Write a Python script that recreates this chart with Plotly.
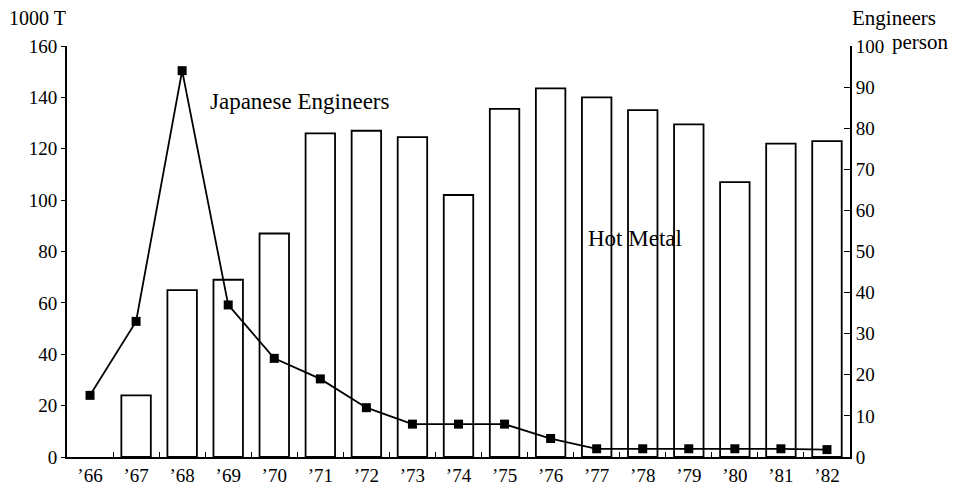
import plotly.graph_objects as go

years = ["’66", "’67", "’68", "’69", "’70", "’71", "’72", "’73", "’74",
         "’75", "’76", "’77", "’78", "’79", "’80", "’81", "’82"]
hot_metal = [None, 24, 65, 69, 87, 126, 127, 124.5, 102, 135.5, 143.5, 140, 135, 129.5, 107, 122, 123]
engineers = [15, 33, 94, 37, 24, 19, 12, 8, 8, 8, 4.5, 2, 2, 2, 2, 2, 1.8]
left_ticks = [0, 20, 40, 60, 80, 100, 120, 140, 160]
right_ticks = [0, 10, 20, 30, 40, 50, 60, 70, 80, 90, 100]

FONT = "Liberation Serif"

fig = go.Figure()
fig.add_trace(go.Bar(
    x=years, y=hot_metal, width=0.64,
    marker=dict(color="white", line=dict(color="black", width=1.8)),
    yaxis="y", showlegend=False, hoverinfo="skip"))
fig.add_trace(go.Scatter(
    x=years, y=engineers, mode="lines+markers",
    line=dict(color="black", width=1.8),
    marker=dict(symbol="square", size=9, color="black"),
    yaxis="y2", showlegend=False))

fig.update_layout(
    width=963, height=489,
    margin=dict(l=67, r=113, t=46, b=32),
    paper_bgcolor="white", plot_bgcolor="white",
    font=dict(family=FONT, size=19, color="black"),
    xaxis=dict(type="category", range=[-0.5, 16.5], showline=True, linecolor="black",
               linewidth=1.8, ticks="inside", tickson="boundaries", ticklen=5,
               tickcolor="black", showgrid=False, zeroline=False, automargin=False,
               tickfont=dict(family=FONT, size=19)),
    yaxis=dict(range=[0, 160], tickvals=left_ticks, showline=True, linecolor="black",
               linewidth=1.8, ticks="outside", ticklen=4, tickcolor="black",
               showgrid=False, zeroline=False, automargin=False,
               tickfont=dict(family=FONT, size=19)),
    yaxis2=dict(range=[0, 100], tickvals=right_ticks, overlaying="y", side="right",
                showline=True, linecolor="black", linewidth=1.8, ticks="inside",
                ticklen=6, tickcolor="black", showgrid=False, zeroline=False,
                automargin=False, tickfont=dict(family=FONT, size=19)),
    annotations=[
        dict(text="1000 T", xref="paper", yref="paper", x=-0.076, y=1.068,
             xanchor="left", yanchor="middle", showarrow=False, font=dict(size=20)),
        dict(text="Engineers", xref="paper", yref="paper", x=1.0, y=1.068,
             xanchor="left", yanchor="middle", showarrow=False, font=dict(size=21)),
        dict(text="person", xref="paper", yref="paper", x=1.051, y=1.01,
             xanchor="left", yanchor="middle", showarrow=False, font=dict(size=21)),
        dict(text="Japanese Engineers", xref="x", yref="y", x=2.56, y=138.5,
             xanchor="left", yanchor="middle", showarrow=False, font=dict(size=23)),
        dict(text="Hot Metal", xref="x", yref="y", x=10.77, y=85,
             xanchor="left", yanchor="middle", showarrow=False, font=dict(size=23)),
    ],
)

fig.write_html("out.html", config={"displayModeBar": False},
               post_script="document.body.style.margin='0';document.body.style.overflow='hidden';")
